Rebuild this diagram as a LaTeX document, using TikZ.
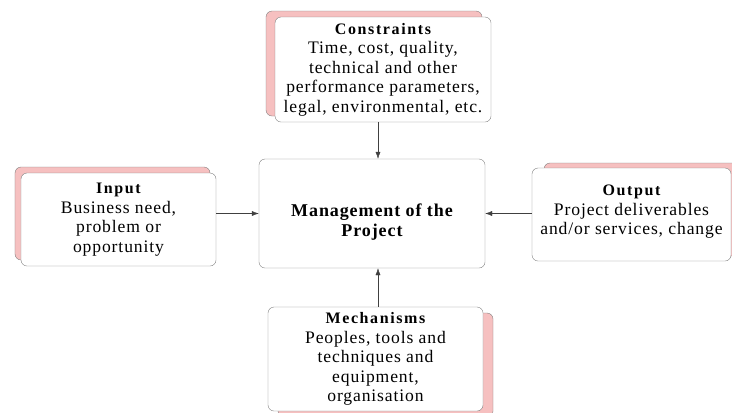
\documentclass[tikz,border=0pt]{standalone}
\usepackage{fontspec}
\setmainfont[LetterSpace=5]{Liberation Serif}
\usetikzlibrary{
  shadows,arrows.meta,positioning
}
\definecolor{shadowpink}{RGB}{246,192,192}
\definecolor{boxline}{RGB}{128,128,128}
\newcommand{\boxtitle}[1]{{\fontsize{16bp}{20bp}\selectfont\bfseries\addfontfeature{LetterSpace=10}#1}}

\begin{document}
\begin{tikzpicture}[x=1bp,y=-1bp,
  box/.style={draw=boxline,fill=white,rounded corners=6bp,align=center,inner sep=2bp,
    font=\fontsize{17.6bp}{19.5bp}\selectfont},
  mainbox/.style={box,font=\fontsize{18bp}{20bp}\selectfont\bfseries\addfontfeature{LetterSpace=5}},
  pinkcopy/.style 2 args={copy shadow={shadow xshift=#1,shadow yshift=#2,
    fill=shadowpink,draw=boxline}},
  arr/.style={draw=black!75,-{Latex[length=7bp,width=5bp]}}
]
\useasboundingbox (0,0) rectangle (732,412);

\node[mainbox,minimum width=226bp,minimum height=109bp] (mgmt) at (372,213.5)
  {\mbox{}\\[10bp]Management of the\\Project};
\node[box,pinkcopy={-9bp}{6bp},minimum width=216bp,minimum height=105bp] (cons) at (383,69.5)
  {\boxtitle{Constraints}\\Time, cost, quality,\\technical and other\\performance parameters,\\legal, environmental, etc.};
\node[box,pinkcopy={-6bp}{6bp},minimum width=195bp,minimum height=93bp] (input) at (118.5,219.5)
  {\boxtitle{Input}\\Business need,\\problem or\\opportunity};
\node[box,pinkcopy={12bp}{5bp},minimum width=199bp,minimum height=93bp] (output) at (631.5,214.5)
  {\boxtitle{Output}\\Project deliverables\\and/or services, change\\[-10bp]};
\node[box,pinkcopy={10bp}{-6bp},minimum width=215bp,minimum height=104bp] (mech) at (375.5,359)
  {\boxtitle{Mechanisms}\\Peoples, tools and\\techniques and\\equipment,\\organisation};

\draw[arr] ([xshift=-5bp]cons.south) -- ([xshift=-5bp]cons.south |- mgmt.north);
\draw[arr] (input.east |- mgmt) -- (mgmt.west);
\draw[arr] (output.west |- mgmt) -- (mgmt.east);
\draw[arr] ([xshift=2.5bp]mech.north) -- ([xshift=2.5bp]mech.north |- mgmt.south);
\end{tikzpicture}
\end{document}
